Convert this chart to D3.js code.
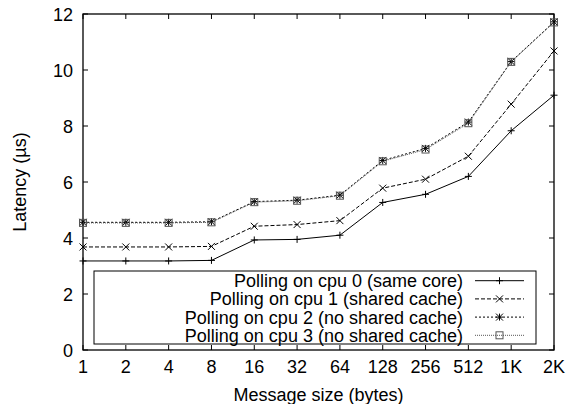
<!DOCTYPE html>
<html>
<head>
<meta charset="utf-8">
<script src="https://cdn.jsdelivr.net/npm/d3@7"></script>
<style>
  body { margin: 0; background: #fff; }
  text { font-family: "Liberation Sans", Arial, sans-serif; fill: #000; }
</style>
</head>
<body>
<svg id="chart" width="567" height="404"></svg>
<script>
// Message sizes (x categories)
const sizes = ["1", "2", "4", "8", "16", "32", "64", "128", "256", "512", "1K", "2K"];
const yTicks = [0, 2, 4, 6, 8, 10, 12];

// Latency per series (us)
const cpu0 = [3.18, 3.18, 3.18, 3.2, 3.93, 3.95, 4.1, 5.27, 5.56, 6.2, 7.83, 9.1];
const cpu1 = [3.68, 3.68, 3.68, 3.7, 4.42, 4.48, 4.62, 5.78, 6.1, 6.92, 8.78, 10.68];
const cpu2 = [4.56, 4.56, 4.56, 4.58, 5.3, 5.35, 5.53, 6.77, 7.2, 8.14, 10.3, 11.72];
const cpu3 = [4.54, 4.54, 4.54, 4.56, 5.28, 5.33, 5.51, 6.74, 7.16, 8.1, 10.29, 11.7];

const seriesNames = [
  "Polling on cpu 0 (same core)",
  "Polling on cpu 1 (shared cache)",
  "Polling on cpu 2 (no shared cache)",
  "Polling on cpu 3 (no shared cache)"
];

const series = [
  { name: seriesNames[0], values: cpu0, dash: null, color: "#000", marker: "plus" },
  { name: seriesNames[1], values: cpu1, dash: "4,2", color: "#000", marker: "cross" },
  { name: seriesNames[2], values: cpu2, dash: "2,2", color: "#000", marker: "star" },
  { name: seriesNames[3], values: cpu3, dash: "1,1", color: "#555", marker: "box" }
];

const svg = d3.select("#chart");
const margin = { left: 83, right: 13, top: 14, bottom: 54 };
const W = 567, H = 404;
const fs = 18;

const x = d3.scalePoint().domain(sizes).range([margin.left, W - margin.right]);
const y = d3.scaleLinear().domain([0, 12]).range([H - margin.bottom, margin.top]);

// Ticks (inner, mirrored on all sides)
const tickLen = 5;
const g = svg.append("g");
g.selectAll(".xt").data(sizes).enter().append("path")
  .attr("d", d => `M${x(d)},${y(0)}v${-tickLen}M${x(d)},${y(12)}v${tickLen}`)
  .attr("stroke", "#000").attr("stroke-width", 1);
g.selectAll(".yt").data(yTicks).enter().append("path")
  .attr("d", d => `M${x("1")},${y(d)}h${tickLen}M${x("2K")},${y(d)}h${-tickLen}`)
  .attr("stroke", "#000").attr("stroke-width", 1);

// Frame
g.append("rect")
  .attr("x", x("1")).attr("y", y(12))
  .attr("width", x("2K") - x("1")).attr("height", y(0) - y(12))
  .attr("fill", "none").attr("stroke", "#000").attr("stroke-width", 1.3);

// Tick labels
g.selectAll(".xl").data(sizes).enter().append("text")
  .attr("x", d => x(d)).attr("y", y(0) + 23)
  .attr("text-anchor", "middle").attr("font-size", fs)
  .text(d => d);
g.selectAll(".yl").data(yTicks).enter().append("text")
  .attr("x", x("1") - 10).attr("y", d => y(d) + 6.5)
  .attr("text-anchor", "end").attr("font-size", fs)
  .text(d => d);

// Axis titles
svg.append("text")
  .attr("x", (x("1") + x("2K")) / 2).attr("y", 401)
  .attr("text-anchor", "middle").attr("font-size", fs)
  .text("Message size (bytes)");
svg.append("text")
  .attr("transform", `translate(26,${(y(0) + y(12)) / 2}) rotate(-90)`)
  .attr("text-anchor", "middle").attr("font-size", fs)
  .text("Latency (µs)");

// Marker drawing
function drawMarker(sel, type, cx, cy, color) {
  const s = 3.5;
  let d = "";
  if (type === "plus" || type === "star") d += `M${cx - s},${cy}h${2 * s}M${cx},${cy - s}v${2 * s}`;
  if (type === "cross" || type === "star") d += `M${cx - s},${cy - s}l${2 * s},${2 * s}M${cx - s},${cy + s}l${2 * s},${-2 * s}`;
  if (type === "box") {
    sel.append("rect").attr("x", cx - s).attr("y", cy - s)
      .attr("width", 2 * s).attr("height", 2 * s)
      .attr("fill", "none").attr("stroke", color).attr("stroke-width", 1);
    return;
  }
  sel.append("path").attr("d", d).attr("stroke", color).attr("stroke-width", 1).attr("fill", "none");
}

// Legend box
const legend = svg.append("g");
legend.append("rect")
  .attr("x", 94).attr("y", 271).attr("width", 442).attr("height", 73)
  .attr("fill", "#fff").attr("stroke", "#000").attr("stroke-width", 1);

// Series
const line = d3.line().x((d, i) => x(sizes[i])).y(d => y(d));
series.forEach((s, k) => {
  const sg = svg.append("g");
  sg.append("path").datum(s.values)
    .attr("d", line)
    .attr("fill", "none").attr("stroke", s.color).attr("stroke-width", 1)
    .attr("stroke-dasharray", s.dash);
  s.values.forEach((v, i) => drawMarker(sg, s.marker, x(sizes[i]), y(v), s.color));

  // legend entry
  const ly = 280.7 + k * 18.2;
  legend.append("text")
    .attr("x", 463).attr("y", ly + 6.5)
    .attr("text-anchor", "end").attr("font-size", fs)
    .text(s.name);
  legend.append("line")
    .attr("x1", 475).attr("x2", 524).attr("y1", ly).attr("y2", ly)
    .attr("stroke", s.color).attr("stroke-width", 1)
    .attr("stroke-dasharray", s.dash);
  drawMarker(legend, s.marker, 499.5, ly, s.color);
});
</script>
</body>
</html>
